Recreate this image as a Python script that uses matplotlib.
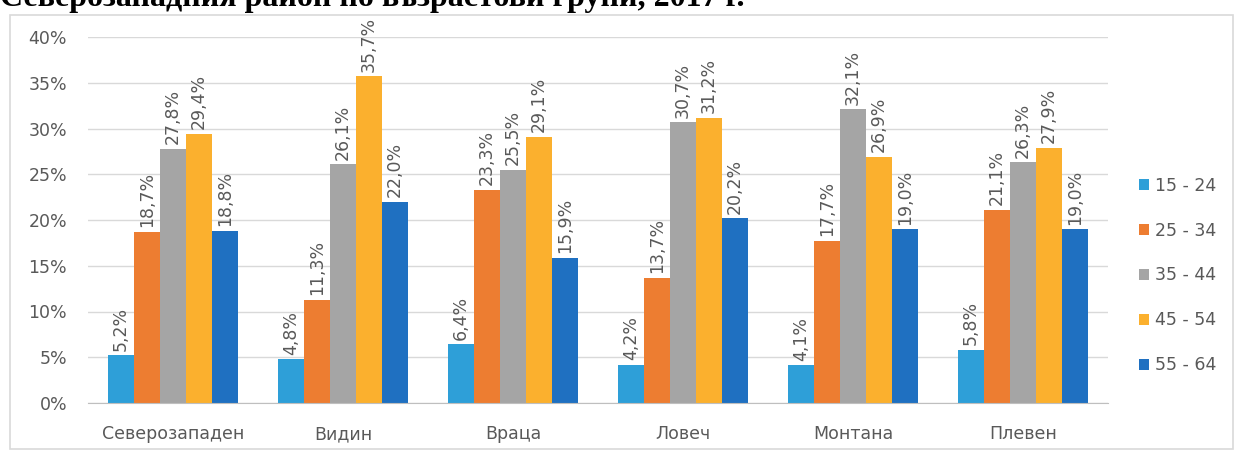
import matplotlib
matplotlib.use("Agg")
import matplotlib.pyplot as plt
import numpy as np
from matplotlib.patches import Rectangle

categories = ["Северозападен", "Видин", "Враца", "Ловеч", "Монтана", "Плевен"]
groups = ["15 - 24", "25 - 34", "35 - 44", "45 - 54", "55 - 64"]
v15_24 = [5.2, 4.8, 6.4, 4.2, 4.1, 5.8]
v25_34 = [18.7, 11.3, 23.3, 13.7, 17.7, 21.1]
v35_44 = [27.8, 26.1, 25.5, 30.7, 32.1, 26.3]
v45_54 = [29.4, 35.7, 29.1, 31.2, 26.9, 27.9]
v55_64 = [18.8, 22.0, 15.9, 20.2, 19.0, 19.0]
series = [v15_24, v25_34, v35_44, v45_54, v55_64]
colors = ["#2E9FD8", "#ED7D31", "#A5A5A5", "#FBB02E", "#1F70C1"]
yticks = [0, 5, 10, 15, 20, 25, 30, 35, 40]

W, H = 1236, 454
fig = plt.figure(figsize=(W / 100, H / 100), dpi=100)
fig.patch.set_facecolor("white")

fig.patches.append(Rectangle((10 / W, 1 - 449 / H), (1233 - 10) / W, (449 - 15) / H,
                             transform=fig.transFigure, fill=False,
                             edgecolor="#D9D9D9", linewidth=1.2))

fig.text(0.0, 1 - 6 / H, "Северозападния район по възрастови групи, 2017 г.",
         family="Liberation Serif", fontweight="bold", fontsize=23,
         ha="left", va="baseline", color="black")

ax = fig.add_axes([88 / W, 1 - 403 / H, (1108 - 88) / W, (403 - 37) / H])
ax.set_facecolor("none")
font = "DejaVu Sans"
tc = "#595959"
fs = 12.5

x = np.arange(len(categories))
bw = 0.153
for i, (vals, c, g) in enumerate(zip(series, colors, groups)):
    pos = x + (i - 2) * bw
    ax.bar(pos, vals, width=bw, color=c, label=g, zorder=2)
    for xp, v in zip(pos, vals):
        ax.text(xp, v + 0.5, f"{v:.1f}%".replace(".", ","), rotation=90,
                ha="center", va="bottom", fontsize=fs, color=tc, family=font)

ax.set_xlim(-0.5, len(categories) - 0.5)
ax.set_ylim(0, 40)
ax.set_yticks(yticks)
ax.set_yticklabels([f"{t}%" for t in yticks], fontsize=fs, color=tc, family=font)
ax.set_xticks(x)
ax.set_xticklabels([""] * len(categories))
for xi, cat in zip(x, categories):
    ax.text(xi, -36 / 366, cat, transform=ax.get_xaxis_transform(),
            ha="center", va="baseline", fontsize=fs, color=tc, family=font)
ax.tick_params(axis="both", length=0)
ax.tick_params(axis="y", pad=15)
ax.grid(axis="y", color="#D9D9D9", linewidth=1, zorder=0)
for s in ["top", "right", "left"]:
    ax.spines[s].set_visible(False)
ax.spines["bottom"].set_color("#BFBFBF")

leg = fig.legend(loc="center left", bbox_to_anchor=(1139 / W, 1 - 275.5 / H),
                 frameon=False, handlelength=0.6, handleheight=0.6,
                 handletextpad=0.3, labelspacing=1.55, borderpad=0,
                 borderaxespad=0, prop={"family": font, "size": fs})
for t in leg.get_texts():
    t.set_color(tc)

fig.savefig("out.png", dpi=100)
